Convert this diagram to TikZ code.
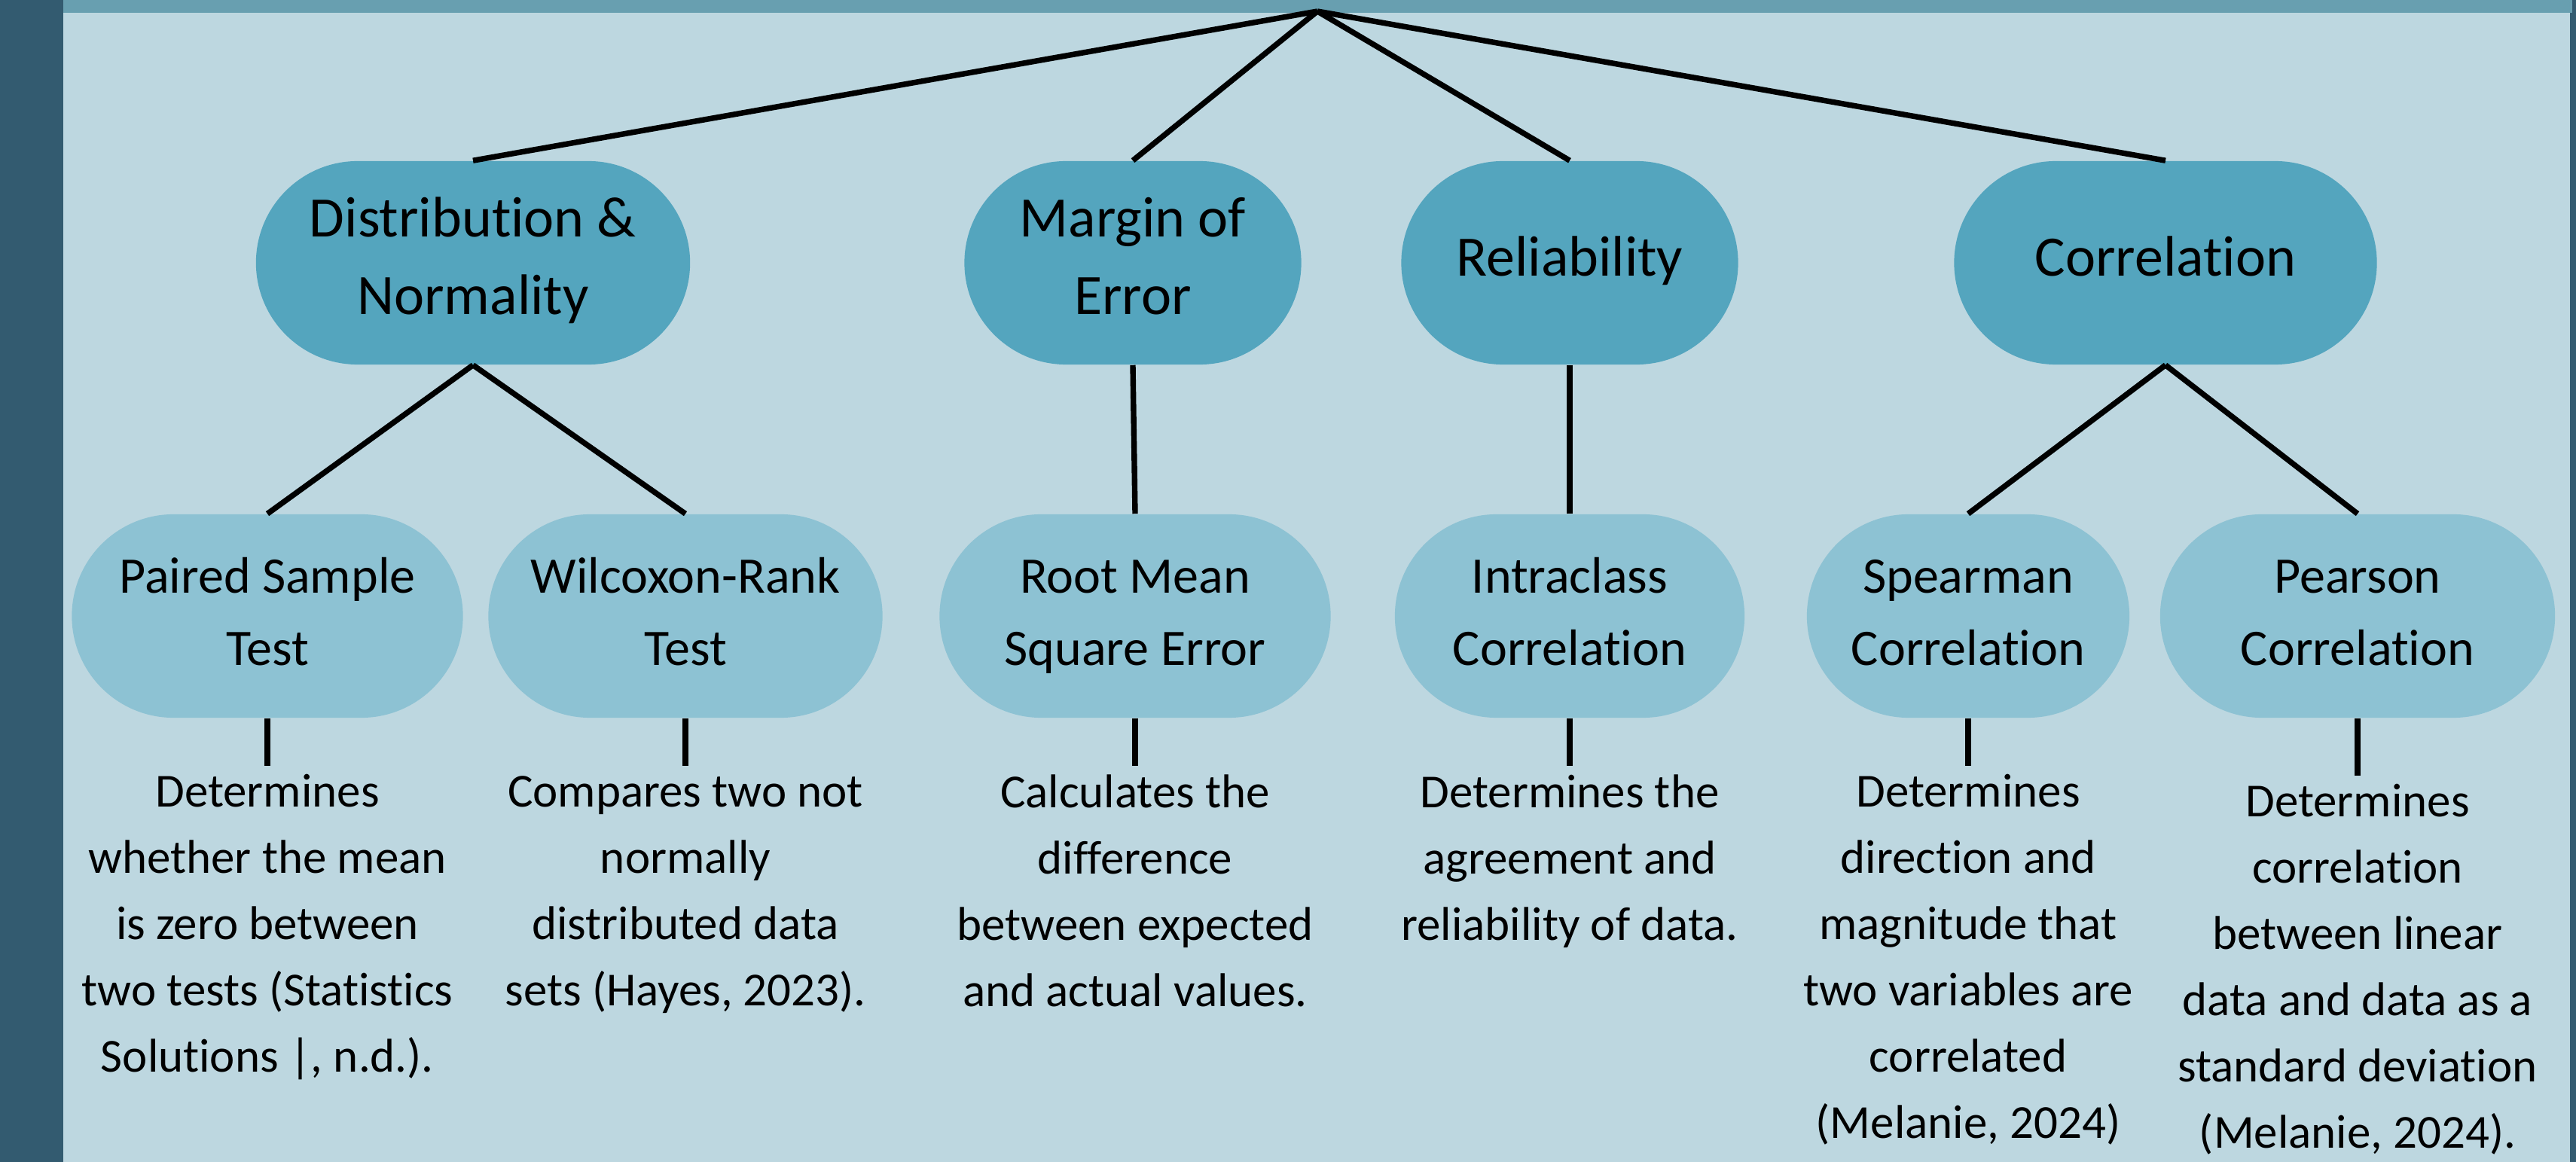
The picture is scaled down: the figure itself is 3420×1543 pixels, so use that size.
\documentclass[tikz,border=0pt]{standalone}
\usepackage{fontspec}
\setmainfont{Carlito}[Ligatures=NoCommon]
\definecolor{darkc}{HTML}{335B70}
\definecolor{bandc}{HTML}{689FB0}
\definecolor{bgc}{HTML}{BDD7E0}
\definecolor{topc}{HTML}{54A5BE}
\definecolor{subc}{HTML}{8DC2D3}
\newcommand\lnstrut{\rule[-0.26cm]{0pt}{0.86cm}}
\tikzset{
  topnode/.style={fill=topc, rounded corners=1.35cm, minimum height=2.7cm, inner sep=0pt,
    font=\fontsize{21.6}{29.3}\selectfont, align=center},
  subnode/.style={fill=subc, rounded corners=1.35cm, minimum height=2.7cm, inner sep=0pt,
    font=\fontsize{19.35}{27.3}\selectfont, align=center},
  desc/.style={font=\fontsize{17.9}{25}\selectfont, align=center, inner sep=0pt, anchor=base},
  conn/.style={line width=2.1pt, draw=black}
}
\begin{document}
\begin{tikzpicture}[x=0.01cm, y=-0.01cm]
\useasboundingbox (0,0) rectangle (3420,1543);
% background
\fill[bgc] (0,0) rectangle (3420,1543);
\fill[darkc] (0,0) rectangle (84,1543);
\fill[darkc] (3412,0) rectangle (3420,1543);
\fill[bandc] (84,0) rectangle (3415,17);

% top-level nodes
\node[topnode, minimum width=5.76cm] (dist) at (628,349) {\lnstrut Distribution \&\\\lnstrut Normality};
\node[topnode, minimum width=4.47cm] (moe) at (1504,349) {\lnstrut Margin of\\\lnstrut Error};
\node[topnode, minimum width=4.47cm] (rel) at (2084,349) {\lnstrut Reliability};
\node[topnode, minimum width=5.61cm] (cor) at (2875,349) {\lnstrut Correlation};

% second-level nodes
\node[subnode, minimum width=5.19cm] (paired) at (355,818) {\lnstrut Paired Sample\\\lnstrut Test};
\node[subnode, minimum width=5.23cm] (wilc) at (910,818) {\lnstrut Wilcoxon-Rank\\\lnstrut Test};
\node[subnode, minimum width=5.19cm] (rmse) at (1507,818) {\lnstrut Root Mean\\\lnstrut Square Error};
\node[subnode, minimum width=4.64cm] (icc) at (2084,818) {\lnstrut Intraclass\\\lnstrut Correlation};
\node[subnode, minimum width=4.28cm] (spear) at (2613,818) {\lnstrut Spearman\\\lnstrut Correlation};
\node[subnode, minimum width=5.24cm] (pear) at (3130,818) {\lnstrut Pearson\\\lnstrut Correlation};

% descriptions (anchor at baseline of last line)
\node[desc] (dpaired) at (355,1423) {Determines\\whether the mean\\is zero between\\two tests (Statistics\\Solutions |, n.d.).};
\node[desc] (dwilc) at (910,1335) {Compares two not\\normally\\distributed data\\sets (Hayes, 2023).};
\node[desc] (drmse) at (1507,1336) {Calculates the\\difference\\between expected\\and actual values.};
\node[desc] (dicc) at (2084,1248) {Determines the\\agreement and\\reliability of data.};
\node[desc] (dspear) at (2613,1511) {Determines\\direction and\\magnitude that\\two variables are\\correlated\\(Melanie, 2024)};
\node[desc] (dpear) at (3130,1524) {Determines\\correlation\\between linear\\data and data as a\\standard deviation\\(Melanie, 2024).};

% connectors
\coordinate (apex) at (1749,15);
\draw[conn] (apex) -- (dist.north);
\draw[conn] (apex) -- (moe.north);
\draw[conn] (apex) -- (rel.north);
\draw[conn] (apex) -- (cor.north);
\draw[conn] (dist.south) -- (paired.north);
\draw[conn] (dist.south) -- (wilc.north);
\draw[conn] (moe.south) -- (rmse.north);
\draw[conn] (rel.south) -- (icc.north);
\draw[conn] (cor.south) -- (spear.north);
\draw[conn] (cor.south) -- (pear.north);

\coordinate (s1) at (355,1017);
\coordinate (s2) at (910,1017);
\coordinate (s3) at (1507,1017);
\coordinate (s4) at (2084,1017);
\coordinate (s5) at (2613,1017);
\coordinate (s6) at (3130,1030);
\draw[conn] (paired.south) -- (s1);
\draw[conn] (wilc.south) -- (s2);
\draw[conn] (rmse.south) -- (s3);
\draw[conn] (icc.south) -- (s4);
\draw[conn] (spear.south) -- (s5);
\draw[conn] (pear.south) -- (s6);
\end{tikzpicture}
\end{document}
